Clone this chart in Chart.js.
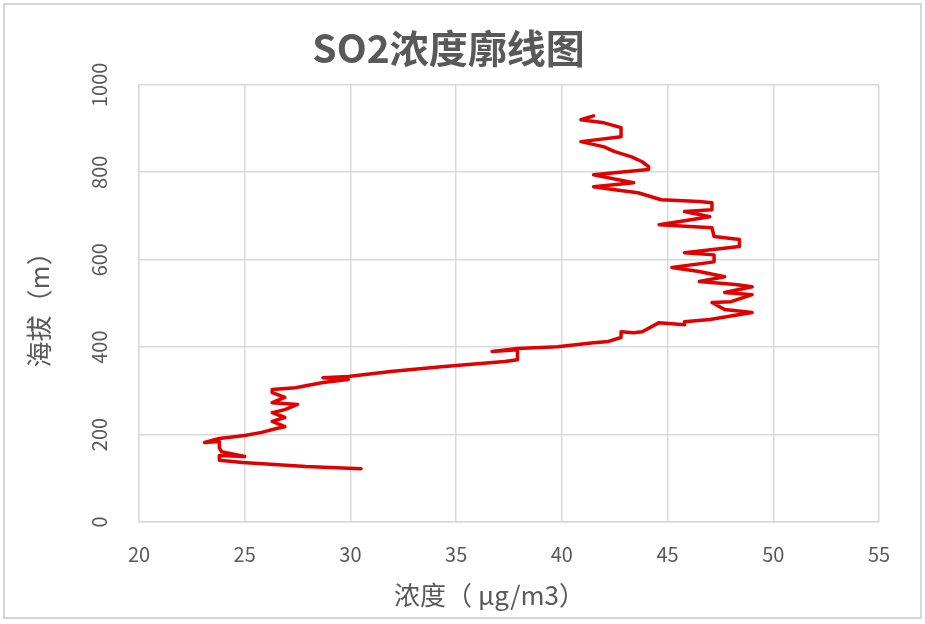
<!DOCTYPE html>
<html>
<head>
<meta charset="utf-8">
<script src="https://cdn.jsdelivr.net/npm/chart.js@4"></script>
<style>
  html, body { margin: 0; padding: 0; background: #ffffff; }
  #wrap { width: 925px; height: 624px; position: relative; }
</style>
</head>
<body>
<div id="wrap"><canvas id="c" width="925" height="624"></canvas></div>
<script>
const chartTitle = 'SO2浓度廓线图';
const xTitle = '浓度（ μg/m3）';
const yTitle = '海拔（m）';
const xTicks = [20, 25, 30, 35, 40, 45, 50, 55];
const yTicks = [0, 200, 400, 600, 800, 1000];

// SO2 concentration (μg/m3), in order from lowest to highest altitude
const concentration = [
  30.5, 27.9, 24.9, 23.8, 23.8, 25.0, 23.9, 23.8, 23.8, 23.1,
  23.8, 25.0, 25.8, 26.5, 26.9, 26.3, 26.9, 26.3, 26.9, 27.5,
  26.3, 26.9, 26.3, 26.3, 27.4, 28.7, 29.9, 28.7, 29.9, 31.9,
  34.3, 37.3, 37.9, 37.9, 36.7, 37.9, 39.8, 41.5, 42.2, 42.8,
  42.8, 43.4, 43.8, 44.6, 45.8, 45.8, 47.0, 49.0, 47.7, 47.1,
  48.0, 49.0, 47.7, 49.0, 48.2, 46.5, 47.7, 46.5, 45.2, 47.2,
  47.2, 45.8, 48.4, 48.4, 47.2, 47.1, 44.6, 47.0, 45.8, 47.1,
  47.1, 46.5, 44.7, 43.6, 42.5, 41.5, 43.4, 41.5, 44.1, 44.1,
  43.8, 43.3, 42.5, 42.0, 40.9, 42.8, 42.8, 42.0, 40.9, 41.5
];
// altitude (m)
const altitude = [
  122, 127, 136, 141, 152, 150, 161, 170, 184, 182,
  191, 198, 205, 214, 218, 230, 239, 250, 257, 269,
  273, 285, 296, 303, 307, 319, 326, 330, 333, 344,
  355, 367, 371, 394, 390, 397, 401, 410, 413, 422,
  435, 433, 435, 456, 451, 458, 463, 479, 486, 502,
  504, 520, 525, 538, 543, 550, 561, 573, 582, 595,
  611, 616, 630, 646, 653, 673, 680, 698, 710, 714,
  730, 733, 737, 753, 760, 767, 776, 794, 806, 813,
  824, 835, 847, 858, 870, 881, 902, 913, 920, 929
];

const points = concentration.map((v, i) => ({ x: v, y: altitude[i] }));

const frame = {
  id: 'frame',
  beforeDraw(chart) {
    const ctx = chart.ctx;
    ctx.save();
    ctx.fillStyle = '#ffffff';
    ctx.fillRect(0, 0, chart.width, chart.height);
    ctx.strokeStyle = '#d6d6d6';
    ctx.lineWidth = 2;
    ctx.strokeRect(4, 4, chart.width - 8, chart.height - 10);
    ctx.restore();
  }
};

const fontFam = '"Noto Sans CJK SC", "Noto Sans", sans-serif';

new Chart(document.getElementById('c'), {
  type: 'scatter',
  data: {
    datasets: [{
      data: points,
      showLine: true,
      borderColor: '#e00000',
      backgroundColor: '#e00000',
      borderWidth: 3.5,
      borderJoinStyle: 'round',
      borderCapStyle: 'round',
      pointRadius: 0,
      tension: 0
    }]
  },
  options: {
    responsive: false,
    animation: false,
    layout: { padding: { left: 18, right: 46, top: 0, bottom: 0 } },
    plugins: {
      legend: { display: false },
      tooltip: { enabled: false },
      title: {
        display: true,
        text: chartTitle,
        color: '#595959',
        font: { family: fontFam, size: 39, weight: 'bold' },
        padding: { top: 25, bottom: 13 }
      }
    },
    scales: {
      x: {
        type: 'linear',
        min: xTicks[0],
        max: xTicks[xTicks.length - 1],
        afterBuildTicks(scale) { scale.ticks = xTicks.map(v => ({ value: v })); },
        afterFit(scale) { scale.height = 102; },
        ticks: {
          color: '#595959',
          font: { family: fontFam, size: 20 },
          padding: 20,
          maxRotation: 0,
          callback: (v) => String(v)
        },
        grid: { color: '#d9d9d9', lineWidth: 1.5, drawTicks: false },
        border: { color: '#d9d9d9', width: 1.5 },
        title: {
          display: true,
          text: xTitle + '　　',
          color: '#595959',
          font: { family: fontFam, size: 26 },
          padding: { top: 0, bottom: 13 }
        }
      },
      y: {
        type: 'linear',
        min: yTicks[0],
        max: yTicks[yTicks.length - 1],
        afterBuildTicks(scale) { scale.ticks = yTicks.map(v => ({ value: v })); },
        afterFit(scale) { scale.width = 121; },
        ticks: {
          color: '#595959',
          font: { family: fontFam, size: 20 },
          padding: 17,
          minRotation: 90,
          maxRotation: 90,
          crossAlign: 'center',
          callback: (v) => String(v)
        },
        grid: { color: '#d9d9d9', lineWidth: 1.5, drawTicks: false },
        border: { color: '#d9d9d9', width: 1.5 },
        title: {
          display: true,
          text: yTitle,
          color: '#595959',
          font: { family: fontFam, size: 26 },
          padding: { top: 6, bottom: 0 }
        }
      }
    }
  },
  plugins: [frame]
});
</script>
</body>
</html>
